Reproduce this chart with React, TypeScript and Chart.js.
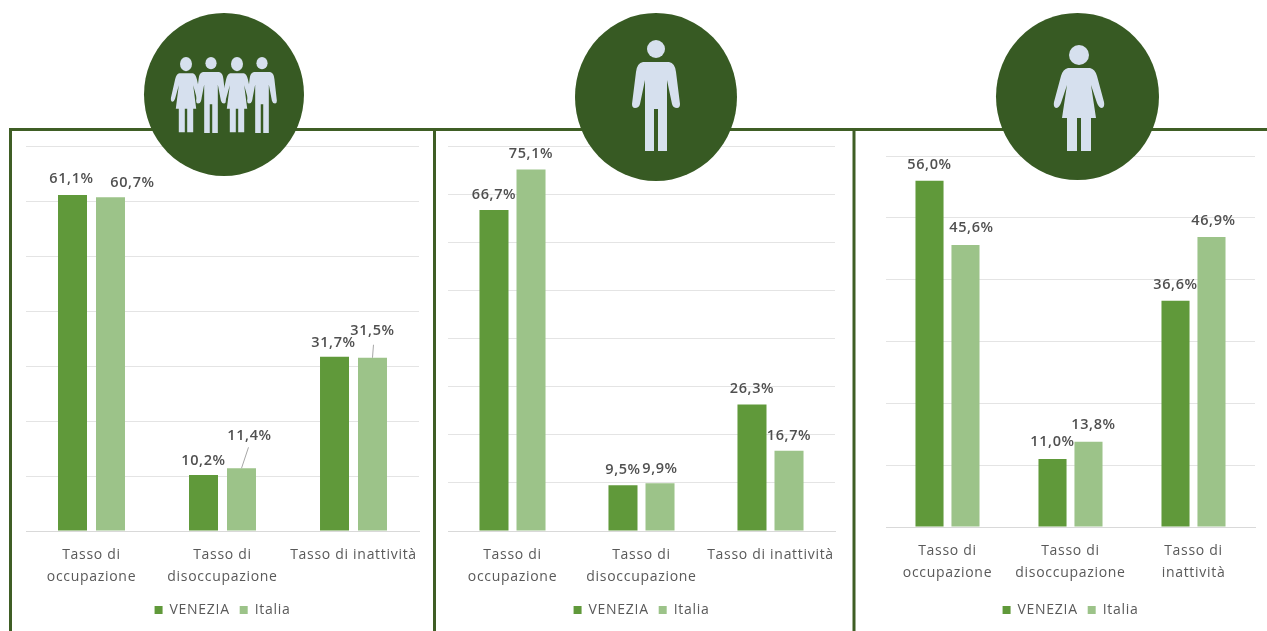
import React, { useEffect, useRef } from "react";
import { Chart, registerables } from "chart.js";

Chart.register(...registerables);

const seriesNames = ["VENEZIA", "Italia"];
const occupazione = ["Tasso di", "occupazione"];
const disoccupazione = ["Tasso di", "disoccupazione"];
const inattivitaOneLine = "Tasso di inattività";
const inattivitaTwoLines = ["Tasso di", "inattività"];

const totalVenezia = [61.1, 10.2, 31.7];
const totalItalia = [60.7, 11.4, 31.5];
const menVenezia = [66.7, 9.5, 26.3];
const menItalia = [75.1, 9.9, 16.7];
const womenVenezia = [56.0, 11.0, 36.6];
const womenItalia = [45.6, 13.8, 46.9];

const DARK = "#60993a";
const LIGHT = "#9cc389";
const BORDER = "#3f5e25";
const CIRCLE = "#375a23";
const FIGURE = "#d6e0ee";
const TEXT = "#595959";
const FONT = '"Open Sans", sans-serif';

type PanelConfig = {
  left: number;
  width: number;
  padding: { left: number; right: number; top: number; bottom: number };
  axisHeight: number;
  yMax: number;
  catPct: number;
  barPct: number;
  labels: (string | string[])[];
  a: number[];
  b: number[];
  // shifts of each value label from the middle of its bar's top: [dx, dy]
  shiftsA: number[][];
  shiftsB: number[][];
  // leader lines as [seriesIndex, categoryIndex, dx at the label, dy at the label]
  leaders: number[][];
};

const panels: PanelConfig[] = [
  {
    left: 12, width: 421,
    padding: { left: 14, right: 14, top: 15, bottom: 4 },
    axisHeight: 62, yMax: 70, catPct: 0.58, barPct: 0.763,
    labels: [occupazione, disoccupazione, inattivitaOneLine],
    a: totalVenezia, b: totalItalia,
    shiftsA: [[-1, -16], [0, -14], [-1, -14]],
    shiftsB: [[22, -14], [8, -32], [0, -27]],
    leaders: [[1, 1, 7, -21], [1, 2, 1, -13]],
  },
  {
    left: 436, width: 416,
    padding: { left: 12, right: 17, top: 15, bottom: 4 },
    axisHeight: 62, yMax: 80, catPct: 0.574, barPct: 0.784,
    labels: [occupazione, disoccupazione, inattivitaOneLine],
    a: menVenezia, b: menItalia,
    shiftsA: [[0, -15], [0, -15], [0, -16]],
    shiftsB: [[0, -16], [0, -14], [0, -15]],
    leaders: [],
  },
  {
    left: 856, width: 411,
    padding: { left: 30, right: 12, top: 25, bottom: 4 },
    axisHeight: 66, yMax: 60, catPct: 0.585, barPct: 0.78,
    labels: [occupazione, disoccupazione, inattivitaTwoLines],
    a: womenVenezia, b: womenItalia,
    shiftsA: [[0, -16], [0, -17], [0, -16]],
    shiftsB: [[6, -17], [5, -17], [2, -16]],
    leaders: [],
  },
];

const formatValue = (v: number) => v.toFixed(1).replace(".", ",") + "%";

// Applied again before layout and drawing, since sizing the canvas resets the context.
const wideText = {
  id: "wideText",
  beforeLayout(chart: any) { chart.ctx.letterSpacing = "0.7px"; },
  beforeDraw(chart: any) { chart.ctx.letterSpacing = "0.7px"; },
};

function buildValueLabels(cfg: PanelConfig) {
  return {
    id: "valueLabels",
    afterDatasetsDraw(chart: any) {
      const { ctx } = chart;
      const shifts = [cfg.shiftsA, cfg.shiftsB];
      ctx.save();
      ctx.strokeStyle = "#a6a6a6";
      ctx.lineWidth = 1;
      cfg.leaders.forEach(([s, c, dx, dy]) => {
        const bar = chart.getDatasetMeta(s).data[c];
        ctx.beginPath();
        ctx.moveTo(bar.x, bar.y);
        ctx.lineTo(bar.x + dx, bar.y + dy);
        ctx.stroke();
      });
      ctx.font = `600 14.5px ${FONT}`;
      ctx.letterSpacing = "0.6px";
      ctx.fillStyle = "#505050";
      ctx.textAlign = "center";
      ctx.textBaseline = "middle";
      chart.data.datasets.forEach((ds: any, s: number) => {
        chart.getDatasetMeta(s).data.forEach((bar: any, c: number) => {
          const [dx, dy] = shifts[s][c];
          ctx.fillText(formatValue(ds.data[c]), bar.x + dx, bar.y + dy);
        });
      });
      ctx.restore();
    },
  };
}

function Panel({ cfg }: { cfg: PanelConfig }) {
  const ref = useRef<HTMLCanvasElement>(null);
  useEffect(() => {
    const chart = new Chart(ref.current!, {
      type: "bar",
      data: {
        labels: cfg.labels,
        datasets: [
          { label: seriesNames[0], data: cfg.a, backgroundColor: DARK, categoryPercentage: cfg.catPct, barPercentage: cfg.barPct },
          { label: seriesNames[1], data: cfg.b, backgroundColor: LIGHT, categoryPercentage: cfg.catPct, barPercentage: cfg.barPct },
        ],
      },
      options: {
        animation: false,
        responsive: false,
        layout: { padding: cfg.padding },
        scales: {
          x: {
            afterFit: (s: any) => { s.height = cfg.axisHeight; },
            grid: { display: false },
            border: { color: "#d9d9d9", width: 1 },
            ticks: {
              color: TEXT,
              font: { family: FONT, size: 14, lineHeight: 22 / 14 },
              padding: 5,
              maxRotation: 0,
              autoSkip: false,
            },
          },
          y: {
            min: 0,
            max: cfg.yMax,
            ticks: { display: false, stepSize: 10 },
            border: { display: false },
            grid: { color: "#e4e4e4", lineWidth: 1, drawTicks: false, tickLength: 0 },
          },
        },
        plugins: {
          title: { display: false },
          tooltip: { enabled: false },
          legend: {
            position: "bottom",
            labels: {
              usePointStyle: true,
              pointStyle: "rect",
              boxWidth: 8,
              boxHeight: 8,
              padding: 10,
              color: TEXT,
              font: { family: FONT, size: 14 },
            },
          },
        },
      },
      plugins: [wideText, buildValueLabels(cfg)],
    } as any);
    return () => chart.destroy();
  }, [cfg]);
  return (
    <canvas
      ref={ref}
      width={cfg.width}
      height={500}
      style={{ position: "absolute", left: cfg.left, top: 131, width: cfg.width, height: 500 }}
    />
  );
}

const manPath =
  "M-13,62 L13,62 Q19,63 20,72 L24,104 Q24,108 21,108 Q17,108 16,104 L11,80 L11,151 L2,151 L2,109 L-2,109 L-2,151 L-11,151 L-11,80 L-16,104 Q-17,108 -21,108 Q-24,108 -24,104 L-20,72 Q-19,63 -13,62 Z";
const womanPath =
  "M-11,68 L11,68 Q16,69 18,76 L25,102 Q26,107 23,108 Q20,108 18,103 L12,85 L17,118 L12,118 L12,151 L2,151 L2,118 L-2,118 L-2,151 L-12,151 L-12,118 L-17,118 L-12,85 L-18,103 Q-20,108 -23,108 Q-26,107 -25,102 L-18,76 Q-16,69 -11,68 Z";

const Man = ({ transform }: { transform: string }) => (
  <g transform={transform} fill={FIGURE}>
    <circle cx={0} cy={49} r={9} />
    <path d={manPath} />
  </g>
);
const Woman = ({ transform }: { transform: string }) => (
  <g transform={transform} fill={FIGURE}>
    <circle cx={0} cy={55} r={10} />
    <path d={womanPath} />
  </g>
);

function Decorations() {
  return (
    <svg width={1267} height={631} style={{ position: "absolute", left: 0, top: 0, pointerEvents: "none" }}>
      <g stroke={BORDER} strokeWidth={3}>
        <line x1={10} y1={129.5} x2={1267} y2={129.5} />
        <line x1={10.5} y1={128} x2={10.5} y2={631} />
        <line x1={434.5} y1={128} x2={434.5} y2={631} />
        <line x1={854} y1={128} x2={854} y2={631} />
      </g>
      <ellipse cx={224} cy={94.5} rx={80} ry={81.5} fill={CIRCLE} />
      <ellipse cx={656} cy={97} rx={81} ry={84} fill={CIRCLE} />
      <ellipse cx={1077.5} cy={96.5} rx={81.5} ry={83.5} fill={CIRCLE} />
      <Woman transform="translate(186 25) scale(0.6 0.71)" />
      <Man transform="translate(211 29.6) scale(0.62 0.685)" />
      <Woman transform="translate(237 25) scale(0.6 0.71)" />
      <Man transform="translate(262 29.6) scale(0.62 0.685)" />
      <Man transform="translate(656 0)" />
      <Woman transform="translate(1079 0)" />
    </svg>
  );
}

export default function App() {
  return (
    <div style={{ position: "absolute", left: 0, top: 0, width: 1267, height: 631, overflow: "hidden", background: "#fff" }}>
      {panels.map((cfg) => (
        <Panel key={cfg.left} cfg={cfg} />
      ))}
      <Decorations />
    </div>
  );
}
